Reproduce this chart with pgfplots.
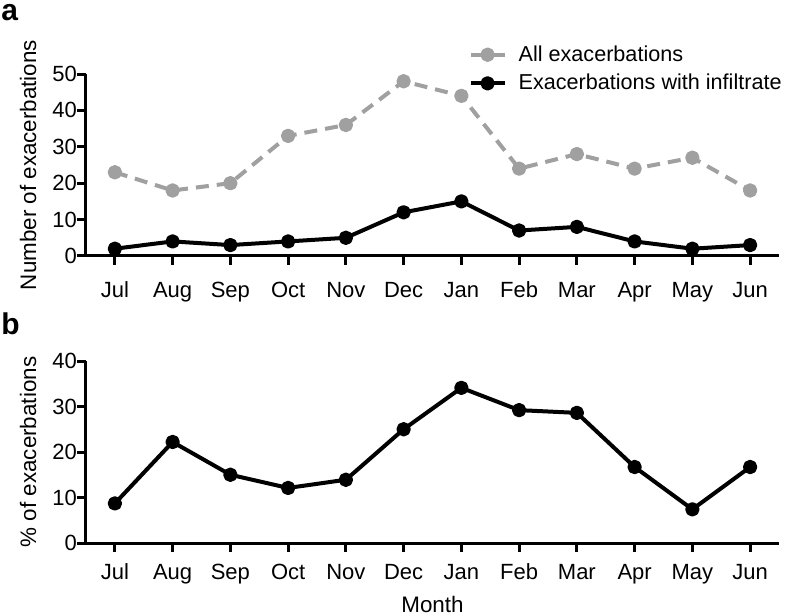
\documentclass[border=0pt]{standalone}
\usepackage{fontspec}
\setmainfont{Liberation Sans}
\usepackage{pgfplots}
\pgfplotsset{compat=1.18}
\definecolor{lgray}{RGB}{160,160,160}
\begin{document}
\begin{tikzpicture}
\useasboundingbox (-43pt,-179pt) rectangle (350pt,128pt);
\pgfplotsset{
  myax/.style={
    scale only axis, width=346.5pt, height=91pt,
    xmin=-0.5, xmax=11.5, ymin=0,
    axis x line*=bottom, axis y line*=left,
    axis line style={line width=1.5pt, -},
    tick align=outside, major tick length=4.5pt,
    tick style={line width=1.5pt, black},
    xtick={0,...,11},
    xticklabels={Jul,Aug,Sep,Oct,Nov,Dec,Jan,Feb,Mar,Apr,May,Jun},
    tick label style={font=\fontsize{11}{13}\selectfont},
    yticklabel style={xshift=3.5pt},
    /pgf/number format/assume math mode=true,
    label style={font=\fontsize{11.2}{13}\selectfont},
    ylabel style={at={(axis description cs:0,0.5)}, anchor=center, rotate=0, yshift=29pt},
    every axis plot/.append style={line width=2pt, line join=round, mark=*, mark size=2.6pt, mark options={solid}},
  }
}
\begin{axis}[myax, ymax=50, ytick={0,10,...,50},
  ylabel={Number of exacerbations},
  xticklabel style={anchor=base, yshift=-16.5pt},
  legend cell align=left,
  legend style={at={(rel axis cs:1,1)}, anchor=north east, yshift=18.5pt, xshift=6.5pt, draw=none, fill=none,
    font=\fontsize{10.8}{12}\selectfont, row sep=1pt,
    /tikz/every odd column/.append style={column sep=4pt}},
]
\addplot[lgray, dash pattern=on 6.5pt off 4pt] coordinates {
(0,23) (1,18) (2,20) (3,33) (4,36) (5,48) (6,44) (7,24) (8,28) (9,24) (10,27) (11,18)};
\addlegendentry{All exacerbations}
\addplot[black] coordinates {
(0,2) (1,4) (2,3) (3,4) (4,5) (5,12) (6,15) (7,7) (8,8) (9,4) (10,2) (11,3)};
\addlegendentry{Exacerbations with infiltrate}
\end{axis}
\begin{axis}[myax, at={(0,-143.5pt)}, ymax=40, ytick={0,10,...,40},
  ylabel={\% of exacerbations},
  xticklabel style={anchor=base, yshift=-13.5pt},
  xlabel={Month},
  xlabel style={at={(axis description cs:0.5,0)}, anchor=base, inner sep=0pt, yshift=-34.5pt},
]
\addplot[black] coordinates {
(0,8.7) (1,22.2) (2,15.0) (3,12.1) (4,13.9) (5,25.0) (6,34.1) (7,29.2) (8,28.6) (9,16.7) (10,7.4) (11,16.7)};
\end{axis}
\node[font=\fontsize{15}{18}\selectfont\bfseries, anchor=base west, inner sep=0pt] at (-42.5pt,117.5pt) {a};
\node[font=\fontsize{15}{18}\selectfont\bfseries, anchor=base west, inner sep=0pt] at (-42.5pt,-39.5pt) {b};
\end{tikzpicture}
\end{document}
